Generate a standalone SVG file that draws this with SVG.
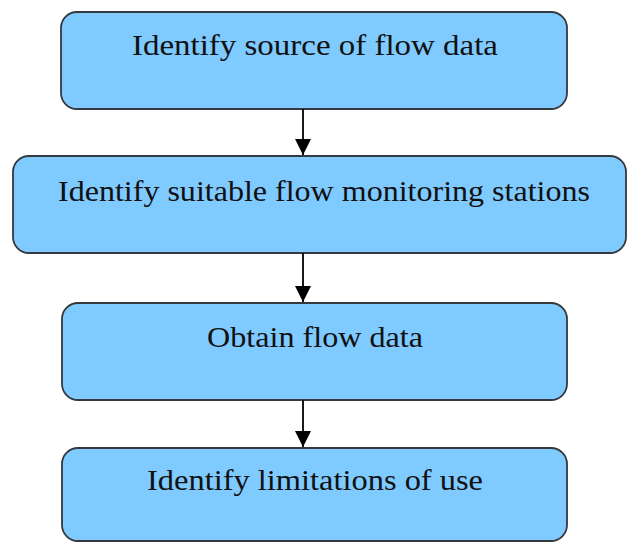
<svg xmlns="http://www.w3.org/2000/svg" width="627" height="543" viewBox="0 0 627 543">
<style>
.box{fill:#7fcaff;stroke:#34393e;stroke-width:1.8}
.lbl{font-family:"Liberation Serif","Times New Roman",serif;font-size:30px;fill:#111;text-anchor:middle}
.conn{stroke:#000;stroke-width:1.8;fill:none}
</style>
<defs>
<marker id="ah" markerWidth="16" markerHeight="16" refX="16" refY="8" orient="auto" markerUnits="userSpaceOnUse" viewBox="0 0 16 16">
<path d="M0,0 L16,8 L0,16 Z" fill="#000"/>
</marker>
</defs>
<g id="n1"><rect class="box" x="61" y="12" width="506" height="97" rx="16"/><text class="lbl" x="315" y="55" textLength="366" lengthAdjust="spacingAndGlyphs">Identify source of flow data</text></g>
<g id="n2"><rect class="box" x="13" y="156" width="613" height="97" rx="16"/><text class="lbl" x="324" y="201" textLength="532" lengthAdjust="spacingAndGlyphs">Identify suitable flow monitoring stations</text></g>
<g id="n3"><rect class="box" x="62" y="303" width="505" height="97" rx="16"/><text class="lbl" x="315" y="347" textLength="216" lengthAdjust="spacingAndGlyphs">Obtain flow data</text></g>
<g id="n4"><rect class="box" x="62" y="448" width="505" height="93" rx="16"/><text class="lbl" x="315" y="490" textLength="336" lengthAdjust="spacingAndGlyphs">Identify limitations of use</text></g>
<g id="connectors">
<line class="conn" x1="303" y1="109" x2="303" y2="155" marker-end="url(#ah)"/>
<line class="conn" x1="303" y1="253" x2="303" y2="302" marker-end="url(#ah)"/>
<line class="conn" x1="303" y1="400" x2="303" y2="447" marker-end="url(#ah)"/>
</g>
</svg>
